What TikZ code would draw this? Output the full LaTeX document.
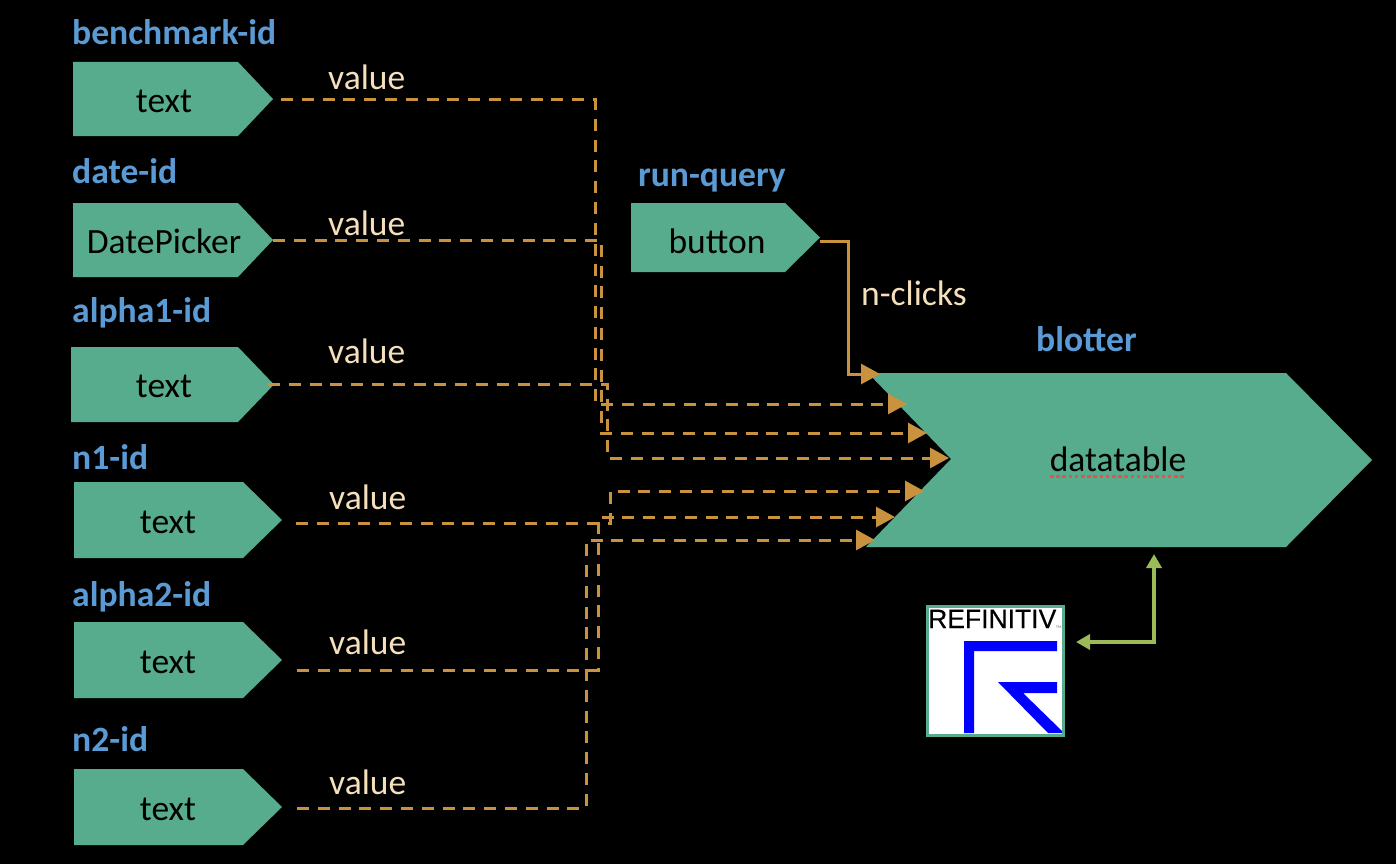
\documentclass[tikz,border=0pt]{standalone}
\usepackage{fontspec}
\setmainfont{Carlito}
\newfontfamily\logofont[FakeBold=0.4]{Liberation Sans}
\usetikzlibrary{arrows.meta}
\definecolor{shapegreen}{HTML}{58AC8E}
\definecolor{idblue}{HTML}{5B9BD5}
\definecolor{valcol}{HTML}{F6E0BC}
\definecolor{wire}{HTML}{C9923F}
\definecolor{olive}{HTML}{9BBB59}
\definecolor{logoblue}{HTML}{0000FF}
\definecolor{squiggle}{HTML}{E8524A}
\tikzset{
  idlabel/.style={anchor=base west,inner sep=0pt,text=idblue,font=\fontsize{35.6}{40}\selectfont\bfseries},
  vallabel/.style={anchor=base west,inner sep=0pt,text=valcol,font=\fontsize{35.5}{40}\selectfont},
  bodytext/.style={inner sep=0pt,anchor=base,text=black,font=\fontsize{35.5}{40}\selectfont},
  pent/.style={fill=shapegreen,draw=none},
  wiredash/.style={draw=wire,line width=3pt,dash pattern=on 12pt off 8.8pt,-{Triangle[length=19pt,width=20pt,fill=wire]}},
  wiresolid/.style={draw=wire,line width=3pt,-{Triangle[length=19pt,width=20pt,fill=wire]}},
  linkarrow/.style={draw=olive,line width=4pt,{Triangle[length=14pt,width=15pt,fill=olive]}-{Triangle[length=14pt,width=15pt,fill=olive]}},
}
\begin{document}
\begin{tikzpicture}[x=1pt,y=-1pt]
\useasboundingbox (0,0) rectangle (1396,864);
\fill[black] (0,0) rectangle (1396,864);
% component shapes
\fill[pent] (73,62) -- (238,62) -- (273,99) -- (238,136) -- (73,136) -- cycle;
\fill[pent] (73,203) -- (238,203) -- (273,240) -- (238,277) -- (73,277) -- cycle;
\fill[pent] (71,347) -- (238,347) -- (274,384.5) -- (238,422) -- (71,422) -- cycle;
\fill[pent] (74,482) -- (243,482) -- (282,520) -- (243,558) -- (74,558) -- cycle;
\fill[pent] (74,622) -- (243,622) -- (282,660) -- (243,698) -- (74,698) -- cycle;
\fill[pent] (74,769) -- (243,769) -- (282,807) -- (243,845) -- (74,845) -- cycle;
\fill[pent] (631,203) -- (785,203) -- (820,237.5) -- (785,272) -- (631,272) -- cycle;
\fill[pent] (868,373) -- (1286,373) -- (1372,460) -- (1286,547) -- (866,547) -- (951,459) -- cycle;
% body texts
\node[bodytext] (bmtext) at (164,113) {text};
\node[bodytext] (datetext) at (164,253) {DatePicker};
\node[bodytext] (a1text) at (164,397) {text};
\node[bodytext] (n1text) at (168,533) {text};
\node[bodytext] (a2text) at (168,673) {text};
\node[bodytext] (n2text) at (168,820) {text};
\node[bodytext] (btntext) at (717,253) {button};
\node[bodytext] (dttext) at (1118,471) {datatable};
\draw[draw=squiggle,line width=3pt,dash pattern=on 3.6pt off 2.6pt] (1050,476.5) -- (1185,476.5);
% id labels
\node[idlabel] (bmid) at (72,44.5) {benchmark-id};
\node[idlabel] (dateid) at (72,183.5) {date-id};
\node[idlabel] (a1id) at (72,322.5) {alpha1-id};
\node[idlabel] (n1id) at (72,469.5) {n1-id};
\node[idlabel] (a2id) at (72,606.5) {alpha2-id};
\node[idlabel] (n2id) at (72,751.5) {n2-id};
\node[idlabel] (runid) at (638,186) {run-query};
\node[idlabel] (blotid) at (1036,351) {blotter};
% value labels
\node[vallabel] (v1) at (328,89.5) {value};
\node[vallabel] (v2) at (328,235.5) {value};
\node[vallabel] (v3) at (328,363.5) {value};
\node[vallabel] (v4) at (329,509.5) {value};
\node[vallabel] (v5) at (329,654.5) {value};
\node[vallabel] (v6) at (329,794.5) {value};
\node[vallabel] (nclicks) at (861,305) {n-clicks};
% connector ends
\coordinate (s1) at (281,100); \coordinate (c1a) at (595,100); \coordinate (c1b) at (595,404); \coordinate (t1) at (907,404);
\coordinate (s2) at (273,240); \coordinate (c2a) at (601,240); \coordinate (c2b) at (601,433); \coordinate (t2) at (927,433);
\coordinate (s3) at (268,384); \coordinate (c3a) at (607,384); \coordinate (c3b) at (607,458); \coordinate (t3) at (949,458);
\coordinate (s4) at (296,523); \coordinate (c4a) at (610,523); \coordinate (c4b) at (610,491); \coordinate (t4) at (924,491);
\coordinate (s5) at (297,670); \coordinate (c5a) at (598,670); \coordinate (c5b) at (598,517); \coordinate (t5) at (895,517);
\coordinate (s6) at (297,808); \coordinate (c6a) at (586,808); \coordinate (c6b) at (586,540); \coordinate (t6) at (875,540);
\coordinate (s7) at (820,241); \coordinate (c7a) at (848,241); \coordinate (c7b) at (848,374); \coordinate (t7) at (880,374);
\draw[wiredash] (s1) -- (c1a) -- (c1b) -- (t1);
\draw[wiredash] (s2) -- (c2a) -- (c2b) -- (t2);
\draw[wiredash] (s3) -- (c3a) -- (c3b) -- (t3);
\draw[wiredash] (s4) -- (c4a) -- (c4b) -- (t4);
\draw[wiredash] (s5) -- (c5a) -- (c5b) -- (t5);
\draw[wiredash] (s6) -- (c6a) -- (c6b) -- (t6);
\draw[wiresolid] (s7) -- (c7a) -- (c7b) -- (t7);
% logo
\node[draw=shapegreen,fill=white,line width=3pt,minimum width=136pt,minimum height=129pt,inner sep=0pt] (logo) at (995,671) {};
\node[inner sep=0pt,anchor=base west,text=black,font=\logofont\fontsize{26.5}{30}\selectfont] (logotext) at (928,628) {REFINITIV};
\node[inner sep=0pt,anchor=base west,text=black!60,font=\fontsize{4}{5}\selectfont] (logotm) at (1056,628) {TM};
\fill[logoblue] (964,733) -- (964,641) -- (1057,641) -- (1057,651) -- (974,651) -- (974,733) -- cycle;
\fill[logoblue] (998,682) -- (1057,682) -- (1057,693) -- (1023,693) -- (1062,731) -- (1062,733) -- (1048,733) -- cycle;
% data link
\coordinate (l1) at (1154,554); \coordinate (l2) at (1154,642); \coordinate (l3) at (1076,642);
\draw[linkarrow] (l1) -- (l2) -- (l3);
\end{tikzpicture}
\end{document}
